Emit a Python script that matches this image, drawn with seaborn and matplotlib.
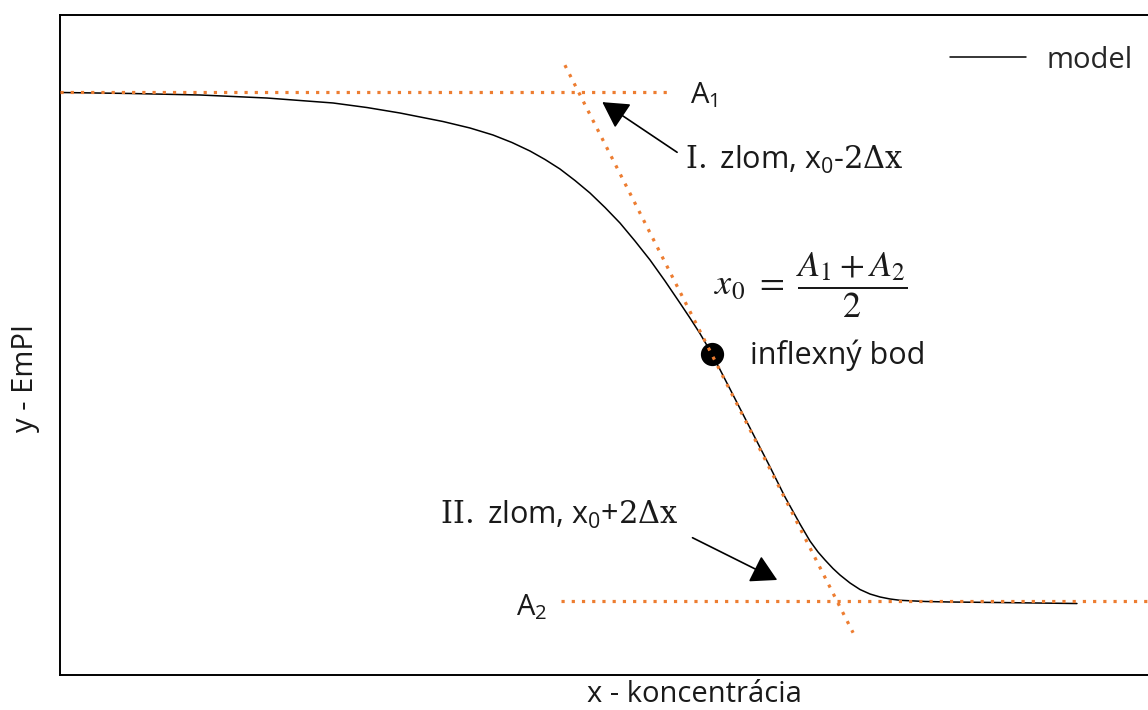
import matplotlib
matplotlib.use("Agg")
import matplotlib.pyplot as plt
import seaborn as sns

## Values (x: 0-100, y: 0-100, no ticks shown)
curve_x = [0.0, 6.36, 12.73, 18.82, 24.82, 27.91, 30.91, 34.82, 37.27, 39.36,
           41.09, 42.73, 44.09, 45.45, 46.82, 48.18, 49.55, 50.91, 52.27, 53.64,
           55.0, 56.36, 57.27, 58.18, 59.27, 60.91, 62.73, 64.55, 65.91, 67.27,
           68.18, 68.91, 69.55, 70.27, 70.91, 71.82, 72.73, 73.64, 74.55, 75.45,
           76.36, 78.64, 80.91, 85.45, 92.45]
curve_y = [88.26, 88.11, 87.88, 87.42, 86.67, 85.98, 85.15, 83.86, 82.88, 81.82,
           80.68, 79.39, 78.11, 76.67, 74.92, 73.03, 70.83, 68.48, 65.76, 62.88,
           59.70, 56.36, 54.09, 51.74, 48.64, 43.33, 37.42, 31.52, 26.97, 22.88,
           20.30, 18.64, 17.42, 16.14, 15.15, 13.94, 12.95, 12.27, 11.82, 11.52,
           11.32, 11.14, 11.06, 10.98, 10.83]

a1_level = 88.3
a2_level = 11.2
a1_line_x = [0, 55.6]
a2_line_x = [45.5, 100]
tangent_x = [45.9, 72.1]
tangent_y = [92.4, 6.4]
inflection_x = [59.3]
inflection_y = [48.6]

orange = "#ED7D31"
ink = "#1a1a1a"

sns.set_style("white")
plt.rcParams["font.family"] = ["Open Sans", "DejaVu Sans"]
plt.rcParams["mathtext.fontset"] = "custom"
plt.rcParams["mathtext.rm"] = "Open Sans"
plt.rcParams["mathtext.it"] = "Open Sans:italic"
plt.rcParams["mathtext.sf"] = "DejaVu Serif"

fig = plt.figure(figsize=(11.48, 7.10), dpi=100)
ax = fig.add_axes([60 / 1148, 35 / 710, 1100 / 1148, 660 / 710])

## Model curve
sns.lineplot(x=curve_x, y=curve_y, color="black", lw=1.1, label="model", ax=ax, zorder=3)

## Inflection point (under the tangent)
sns.scatterplot(x=inflection_x, y=inflection_y, color="black", s=240, ax=ax,
                zorder=4, edgecolor="black", legend=False)

# Dotted helper lines
dots = dict(color=orange, lw=2.3, linestyle=(0, (1, 2.2)), zorder=5)
ax.plot(a1_line_x, [a1_level, a1_level], **dots)
ax.plot(a2_line_x, [a2_level, a2_level], **dots)
ax.plot(tangent_x, tangent_y, **dots)

ax.set_xlim(0, 100)
ax.set_ylim(0, 100)
ax.set_xticks([])
ax.set_yticks([])
for side in ["left", "bottom", "top", "right"]:
    ax.spines[side].set_color("black")
    ax.spines[side].set_linewidth(1.4)

## Annotations
fs = 21
ax.text(57.3, 87.9, r"A$_1$", fontsize=fs, ha="left", va="center", color=ink)
ax.text(41.5, 10.3, r"A$_2$", fontsize=fs, ha="left", va="center", color=ink)
ax.text(56.8, 78.0, r"$\mathsf{I.}$ zlom, x$_0$-$\mathsf{2\Delta x}$",
        fontsize=22, ha="left", va="center", color=ink)
ax.text(34.5, 24.2, r"$\mathsf{II.}$ zlom, x$_0$+$\mathsf{2\Delta x}$",
        fontsize=22, ha="left", va="center", color=ink)
ax.text(68.3, 59.0, r"$x_0\ =\ \dfrac{A_1 + A_2}{2}$", fontsize=26,
        ha="center", va="center", math_fontfamily="stix", color=ink)
ax.text(62.7, 48.5, "inflexný bod", fontsize=22, ha="left", va="center", color=ink)

arrow = dict(arrowstyle="-|>,head_length=0.8,head_width=0.45", color="black",
             lw=1.2, mutation_scale=20, shrinkA=0, shrinkB=0)
ax.annotate("", xy=(49.3, 86.8), xytext=(56.1, 79.2), arrowprops=arrow)
ax.annotate("", xy=(65.2, 14.4), xytext=(57.5, 20.8), arrowprops=arrow)

## Axis titles
ax.set_xlabel("x - koncentrácia", fontsize=fs, color=ink)
ax.xaxis.set_label_coords(0.577, -0.008)
ax.set_ylabel("y - EmPI", fontsize=fs, color=ink)
ax.yaxis.set_label_coords(-0.018, 0.45)

ax.legend(loc="center left", bbox_to_anchor=(950 / 1148, 1 - 60 / 710),
          bbox_transform=fig.transFigure, frameon=False, borderpad=0,
          borderaxespad=0, handlelength=2.6, handletextpad=0.7, fontsize=fs)

fig.savefig("out.png", dpi=100)
